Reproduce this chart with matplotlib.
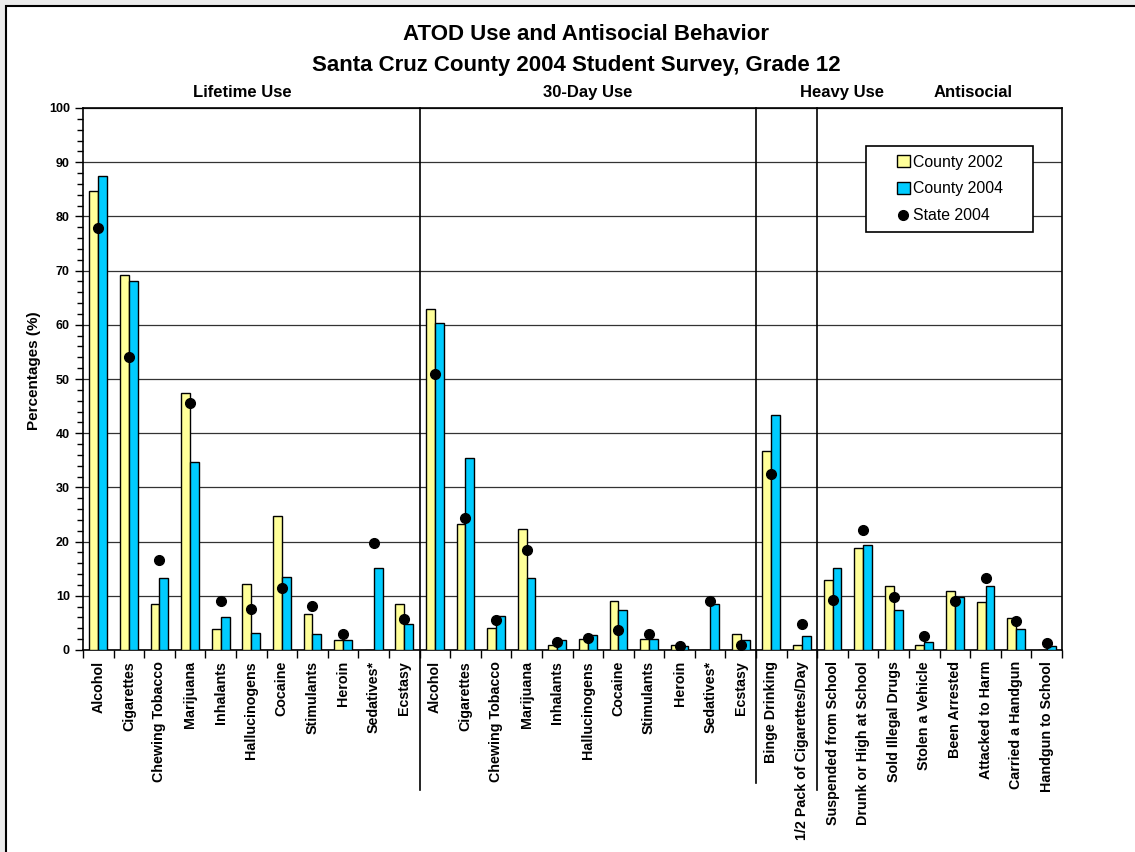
import matplotlib
matplotlib.use("Agg")
import matplotlib.pyplot as plt
import numpy as np
from matplotlib.patches import Patch, Rectangle
from matplotlib.lines import Line2D
from matplotlib.ticker import MultipleLocator, FixedLocator

plt.rcParams['font.family'] = ['Liberation Sans', 'DejaVu Sans']

categories = ['Alcohol', 'Cigarettes', 'Chewing Tobacco', 'Marijuana', 'Inhalants',
              'Hallucinogens', 'Cocaine', 'Stimulants', 'Heroin', 'Sedatives*', 'Ecstasy',
              'Alcohol', 'Cigarettes', 'Chewing Tobacco', 'Marijuana', 'Inhalants',
              'Hallucinogens', 'Cocaine', 'Stimulants', 'Heroin', 'Sedatives*', 'Ecstasy',
              'Binge Drinking', '1/2 Pack of Cigarettes/Day',
              'Suspended from School', 'Drunk or High at School', 'Sold Illegal Drugs',
              'Stolen a Vehicle', 'Been Arrested', 'Attacked to Harm',
              'Carried a Handgun', 'Handgun to School']

county_2002 = [84.7, 69.1, 8.5, 47.5, 3.8, 12.2, 24.7, 6.6, 1.8, 0, 8.4,
               63.0, 23.3, 4.0, 22.4, 0.9, 2.0, 9.1, 2.0, 0.9, 0, 2.9,
               36.7, 0.9,
               12.9, 18.9, 11.9, 0.9, 10.9, 8.9, 5.9, 0]
county_2004 = [87.4, 68.1, 13.3, 34.7, 6.1, 3.2, 13.5, 2.9, 1.8, 15.1, 4.8,
               60.4, 35.4, 6.2, 13.3, 1.8, 2.8, 7.3, 2.1, 0.7, 8.4, 1.8,
               43.4, 2.6,
               15.1, 19.4, 7.3, 1.5, 9.8, 11.9, 3.9, 0.7]
state_2004 = [77.8, 54.1, 16.6, 45.6, 9.0, 7.6, 11.4, 8.1, 3.0, 19.7, 5.8,
              51.0, 24.4, 5.5, 18.5, 1.4, 2.3, 3.7, 3.0, 0.8, 9.1, 0.9,
              32.4, 4.8,
              9.3, 22.1, 9.8, 2.6, 9.0, 13.2, 5.4, 1.2]

sections = ['Lifetime Use', '30-Day Use', 'Heavy Use', 'Antisocial']
section_x = [4.7, 16.0, 24.3, 28.6]
separators = [10.5, 21.5, 23.5]
sep_depth = [-0.258, -0.245, -0.258]

yellow = '#FFFF99'
blue = '#00CCFF'

fig = plt.figure(figsize=(11.35, 8.52), dpi=100)
fig.patch.set_facecolor('#ebebeb')
# white chart frame, runs off the right and bottom edges
frame = Rectangle((6/1135, -0.05), 1.2, 1 - 6/852 + 0.05,
                  transform=fig.transFigure, facecolor='white',
                  edgecolor='black', linewidth=1.5, zorder=-10)
fig.patches.append(frame)

ax = fig.add_axes([83/1135, 1 - 650/852, (1062-83)/1135, (650-108)/852])
ax.set_facecolor('white')
x = np.arange(len(categories))
w = 0.29
ax.bar(x - w/2, county_2002, w, color=yellow, edgecolor='black', linewidth=1, zorder=3)
ax.bar(x + w/2, county_2004, w, color=blue, edgecolor='black', linewidth=1, zorder=3)
ax.plot(x, state_2004, 'o', color='black', markersize=7, zorder=4)

ax.set_xlim(-0.5, len(categories) - 0.5)
ax.set_ylim(0, 100)
ax.yaxis.set_major_locator(MultipleLocator(10))
ax.yaxis.set_minor_locator(MultipleLocator(2))
ax.grid(axis='y', which='major', color='#333333', linewidth=0.9, zorder=0)
ax.set_axisbelow(True)
ax.tick_params(axis='y', which='major', direction='out', length=6, width=1,
               labelsize=9)
ax.tick_params(axis='y', which='minor', direction='out', length=4, width=1)
for lab in ax.get_yticklabels():
    lab.set_fontweight('bold')

ax.xaxis.set_major_locator(FixedLocator(np.arange(-0.5, len(categories), 1)))
ax.xaxis.set_minor_locator(FixedLocator(x))
ax.set_xticklabels([], minor=False)
ax.set_xticklabels(categories, minor=True, rotation=90, fontsize=10.3,
                   fontweight='bold', va='top')
ax.tick_params(axis='x', which='major', direction='out', length=6, width=1)
ax.tick_params(axis='x', which='minor', length=0, pad=8)

for s in ax.spines.values():
    s.set_linewidth(1.2)

ax.set_ylabel('Percentages (%)', fontsize=11, fontweight='bold')
ax.yaxis.set_label_coords(-0.043, 0.515)

for sx, d in zip(separators, sep_depth):
    ax.axvline(sx, ymin=d, ymax=1, color='black', linewidth=1.2, clip_on=False, zorder=5)

trans = ax.get_xaxis_transform()
for name, sx in zip(sections, section_x):
    ax.text(sx, 1.015, name, transform=trans, ha='center', va='bottom',
            fontsize=12, fontweight='bold')

fig.text(586/1135, 1 - 35/852, 'ATOD Use and Antisocial Behavior', ha='center',
         va='center', fontsize=16, fontweight='bold')
fig.text(576/1135, 1 - 65/852, 'Santa Cruz County 2004 Student Survey, Grade 12',
         ha='center', va='center', fontsize=16, fontweight='bold')

# legend box drawn separately so the side padding matches
box = Rectangle(((866-83)/979, (650-232)/542), (1033-866)/979, 86/542,
                transform=ax.transAxes, facecolor='white', edgecolor='black',
                linewidth=1.2, zorder=6)
ax.add_patch(box)
handles = [Patch(facecolor=yellow, edgecolor='black', label='County 2002'),
           Patch(facecolor=blue, edgecolor='black', label='County 2004'),
           Line2D([], [], marker='o', color='black', linestyle='none',
                  markersize=7, label='State 2004')]
leg = ax.legend(handles=handles, loc='center',
                bbox_to_anchor=((950-83)/979, (650-189)/542),
                fontsize=11.4, frameon=False, handlelength=0.8, handleheight=0.8,
                handletextpad=0.2, borderpad=0, labelspacing=0.75,
                borderaxespad=0)
leg.set_zorder(7)

fig.savefig('out.png', dpi=100, facecolor=fig.get_facecolor())
